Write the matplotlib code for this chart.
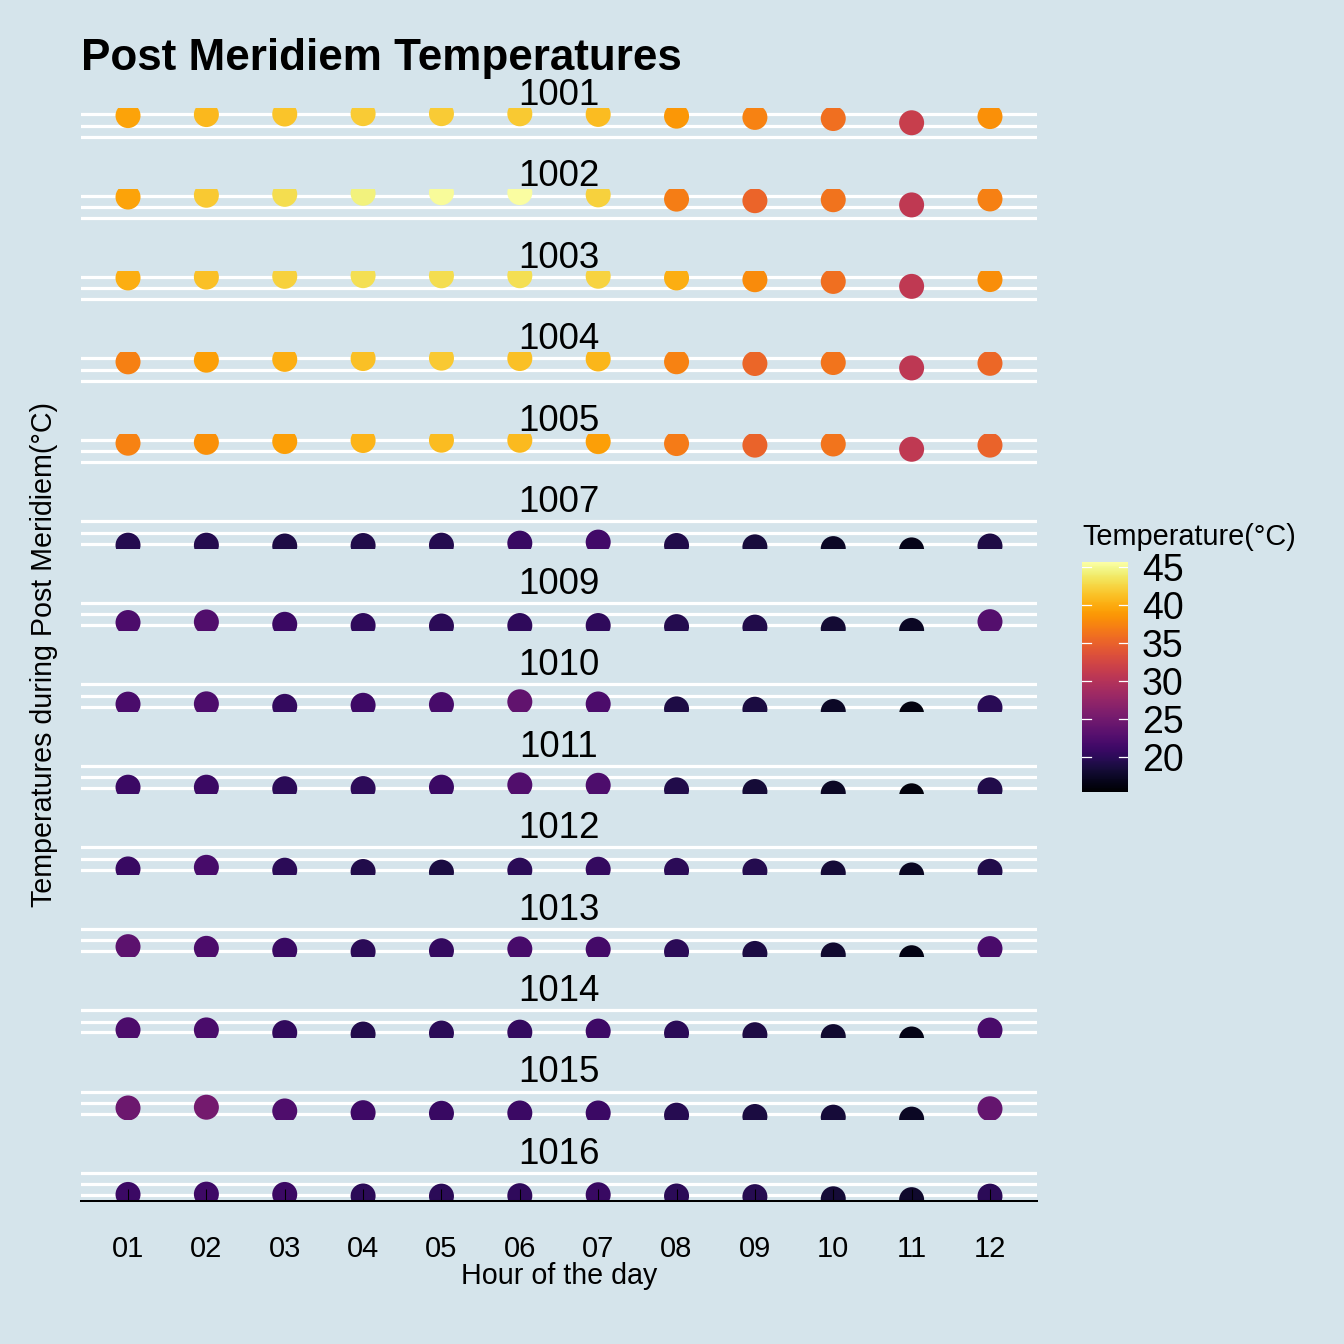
import matplotlib
matplotlib.use("Agg")
import matplotlib.pyplot as plt
from matplotlib.colors import Normalize
from matplotlib.cm import ScalarMappable
from matplotlib.ticker import NullLocator

plt.rcParams['font.family'] = ['Liberation Sans', 'DejaVu Sans']

BG = '#d5e4eb'
W = H = 1344

hours = ['01', '02', '03', '04', '05', '06', '07', '08', '09', '10', '11', '12']
stations = ['1001', '1002', '1003', '1004', '1005', '1007', '1009',
            '1010', '1011', '1012', '1013', '1014', '1015', '1016']

# temperature per hour, one list per station
t_1001 = [39.5, 40.8, 41.5, 42.0, 42.0, 41.8, 41.0, 38.8, 37.3, 36.0, 31.5, 38.3]
t_1002 = [39.5, 41.8, 43.0, 44.5, 45.3, 45.5, 42.3, 37.0, 35.2, 36.3, 30.8, 37.2]
t_1003 = [40.2, 41.3, 42.3, 43.2, 43.0, 43.1, 42.4, 40.2, 38.0, 36.0, 30.8, 38.2]
t_1004 = [37.2, 39.2, 40.2, 41.3, 41.8, 41.3, 40.7, 37.3, 35.3, 36.4, 30.7, 35.5]
t_1005 = [37.3, 38.3, 39.3, 40.6, 41.0, 40.9, 39.2, 36.9, 35.1, 36.4, 30.8, 35.1]
t_1007 = [19.5, 19.5, 19.0, 19.3, 19.5, 20.8, 21.5, 19.3, 18.5, 17.5, 16.8, 19.0]
t_1009 = [22.2, 22.6, 21.0, 20.2, 19.9, 20.2, 20.2, 19.5, 19.2, 18.2, 17.3, 22.8]
t_1010 = [22.1, 22.3, 20.6, 21.3, 21.8, 23.8, 22.2, 19.0, 18.8, 17.5, 16.2, 19.8]
t_1011 = [21.0, 21.0, 20.0, 20.1, 21.0, 22.6, 22.3, 19.3, 18.3, 17.4, 16.0, 19.3]
t_1012 = [20.8, 21.9, 20.0, 19.2, 18.8, 20.0, 20.6, 19.9, 19.5, 18.3, 17.2, 19.3]
t_1013 = [23.4, 22.2, 20.9, 20.0, 20.6, 21.8, 21.6, 20.0, 18.9, 18.0, 16.5, 22.0]
t_1014 = [22.2, 22.1, 20.3, 19.4, 20.0, 20.6, 21.3, 20.0, 19.0, 17.9, 16.6, 22.0]
t_1015 = [24.6, 25.2, 22.4, 21.2, 20.8, 21.0, 21.0, 19.6, 18.8, 18.4, 17.3, 24.0]
t_1016 = [21.0, 21.2, 21.0, 20.0, 19.9, 20.2, 20.8, 20.0, 19.6, 18.3, 17.8, 19.9]

temps = [t_1001, t_1002, t_1003, t_1004, t_1005, t_1007, t_1009,
         t_1010, t_1011, t_1012, t_1013, t_1014, t_1015, t_1016]

cbar_ticks = [20, 25, 30, 35, 40, 45]
grid_vals = [20.4, 28.8, 41.4]

# layout in pixels (ggplot-like facet column)
PANEL_L, PANEL_R = 81, 1037
PANEL_TOP0, PANEL_H, STEP = 108, 34.1, 81.45

norm = Normalize(vmin=15.4, vmax=45.7)
cmap = plt.get_cmap('inferno')

fig = plt.figure(figsize=(W / 100, H / 100), dpi=100, facecolor=BG)


def fy(y):
    return 1 - y / H


x = list(range(len(hours)))
for i, (st, t) in enumerate(zip(stations, temps)):
    top = PANEL_TOP0 + i * STEP
    ax = fig.add_axes([PANEL_L / W, fy(top + PANEL_H), (PANEL_R - PANEL_L) / W, PANEL_H / H])
    ax.set_facecolor(BG)
    ax.set_axisbelow(False)
    ax.set_yscale('log')
    ax.set_ylim(17.1, 50.2)
    ax.set_xlim(-0.6, len(hours) - 0.4)
    ax.yaxis.set_major_locator(NullLocator())
    ax.yaxis.set_minor_locator(NullLocator())
    for g in grid_vals:
        ax.axhline(g, color='white', linewidth=2.3, zorder=1)
    for s in ax.spines.values():
        s.set_visible(False)
    ax.scatter(x, t, c=t, cmap=cmap, norm=norm, s=324, linewidths=0, zorder=2)
    ax.set_xticks(x)
    if i == len(stations) - 1:
        ax.spines['bottom'].set_visible(True)
        ax.spines['bottom'].set_linewidth(1.45)
        ax.set_xticklabels(hours)
        ax.tick_params(axis='x', direction='in', length=8.6, width=0.75,
                       labelsize=21, pad=24.5)
    else:
        ax.tick_params(axis='x', bottom=False, labelbottom=False)
    fig.text((PANEL_L + PANEL_R) / 2 / W, fy(top - 3), st, ha='center',
             va='baseline', fontsize=26.5)

fig.text(PANEL_L / W, fy(70), 'Post Meridiem Temperatures', fontsize=31.7,
         fontweight='bold', va='baseline', ha='left')
fig.text((PANEL_L + PANEL_R) / 2 / W, fy(1284), 'Hour of the day', ha='center',
         va='baseline', fontsize=20.6)
fig.text(52 / W, fy(654.5), 'Temperatures during Post Meridiem(°C)', rotation=90,
         rotation_mode='anchor', ha='center', va='baseline', fontsize=20.6)

# colour bar
cax = fig.add_axes([1082 / W, fy(792), 46 / W, 230 / H])
cb = fig.colorbar(ScalarMappable(norm=norm, cmap=cmap), cax=cax)
cb.outline.set_visible(False)
cb.set_ticks(cbar_ticks)
cax.tick_params(length=0, labelsize=27, pad=10)
for tk in cbar_ticks:
    cax.plot([0, 0.2], [tk, tk], color='white', lw=0.9, transform=cax.get_yaxis_transform())
    cax.plot([0.8, 1], [tk, tk], color='white', lw=0.9, transform=cax.get_yaxis_transform())
fig.text(1082 / W, fy(545), 'Temperature(°C)', fontsize=20.8, va='baseline', ha='left')

fig.savefig('out.png', dpi=100, facecolor=BG)
